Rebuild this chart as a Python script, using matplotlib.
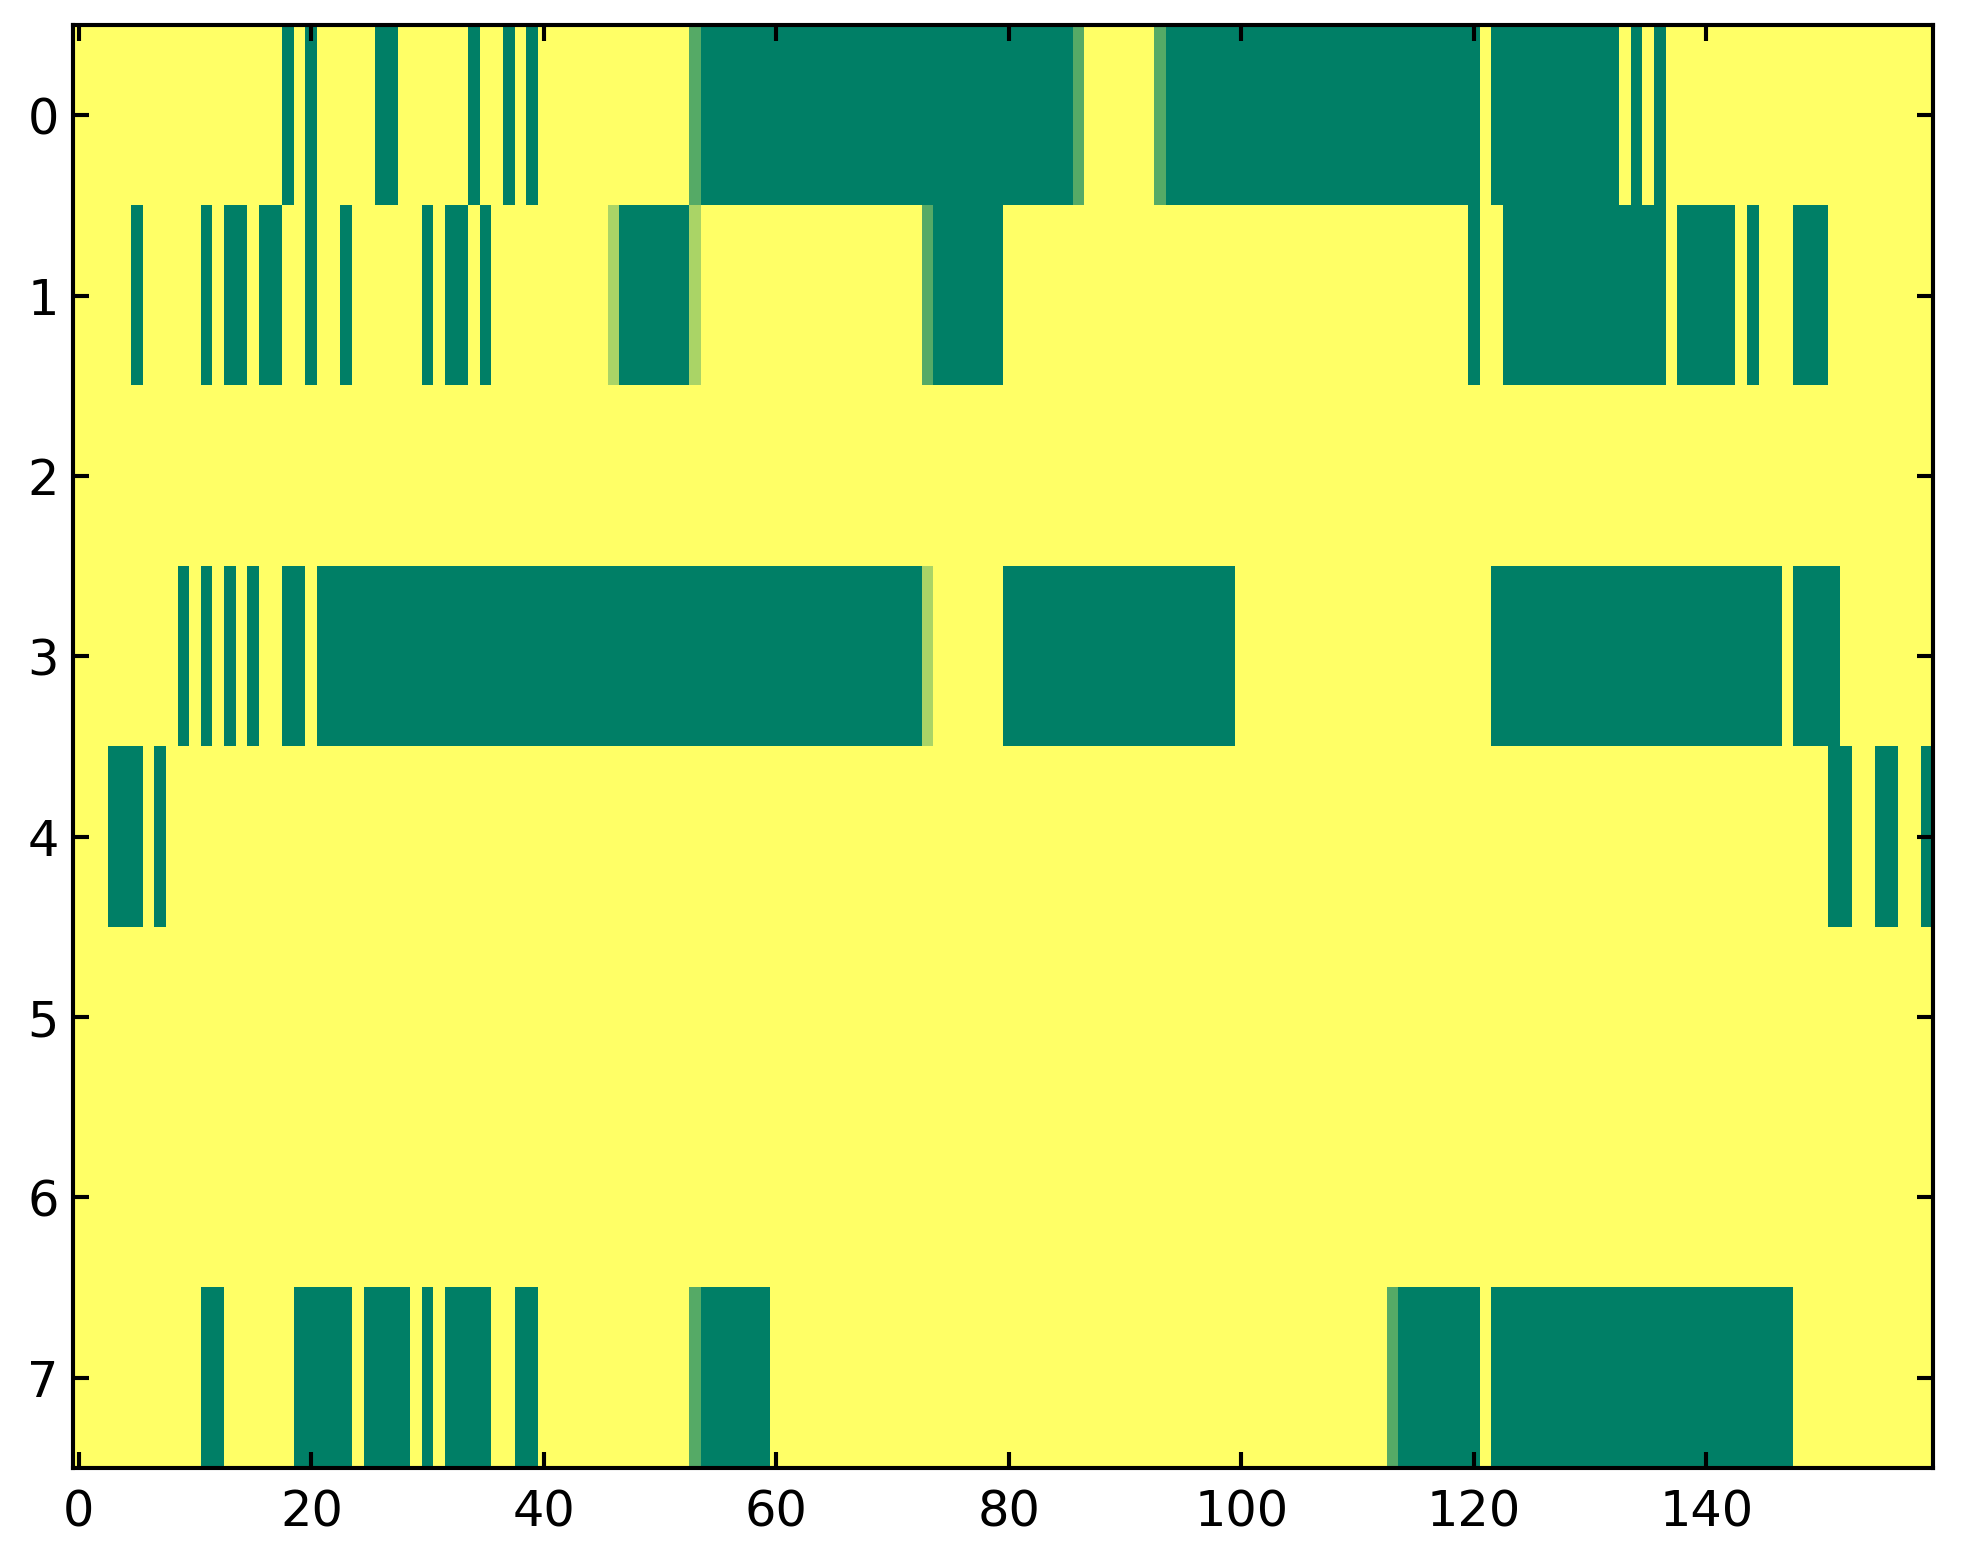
import numpy as np
import matplotlib
matplotlib.use("Agg")
import matplotlib.pyplot as plt

# grid size: 8 rows, 160 columns; value 1 = yellow, 0 = green
n_rows = 8
n_cols = 160

# green runs per row, (first col, last col) inclusive
row0_runs = [(18, 18), (20, 20), (26, 27), (34, 34), (37, 37), (39, 39),
             (54, 85), (94, 120), (122, 132), (134, 134), (136, 136)]
row1_runs = [(5, 5), (11, 11), (13, 14), (16, 17), (20, 20), (23, 23),
             (30, 30), (32, 33), (35, 35), (47, 52), (74, 79), (120, 120),
             (123, 136), (138, 142), (144, 144), (148, 150)]
row2_runs = []
row3_runs = [(9, 9), (11, 11), (13, 13), (15, 15), (18, 19), (21, 72),
             (80, 99), (122, 146), (148, 151)]
row4_runs = [(3, 5), (7, 7), (151, 152), (155, 156), (159, 159)]
row5_runs = []
row6_runs = []
row7_runs = [(11, 12), (19, 23), (25, 28), (30, 30), (32, 35), (38, 39),
             (54, 59), (114, 120), (122, 147)]

# cells with in-between values: (row, col, value)
partial_cells = [(0, 53, 1/3), (0, 86, 1/3), (0, 93, 1/3),
                 (1, 46, 2/3), (1, 53, 2/3), (1, 73, 1/3),
                 (3, 73, 2/3),
                 (7, 53, 1/3), (7, 113, 1/3)]

all_runs = [row0_runs, row1_runs, row2_runs, row3_runs,
            row4_runs, row5_runs, row6_runs, row7_runs]

grid = np.ones((n_rows, n_cols))
for r, runs in enumerate(all_runs):
    for a, b in runs:
        grid[r, a:b + 1] = 0.0
for r, c, v in partial_cells:
    grid[r, c] = v

dpi = 296
fig = plt.figure(figsize=(1963 / dpi, 1564 / dpi), dpi=dpi, facecolor='white')
ax = fig.add_axes([0.0372, 0.0614, 0.9475, 0.9226])
ax.imshow(grid, cmap='summer', vmin=0, vmax=1, aspect='auto', interpolation='nearest')

ax.set_xticks(np.arange(0, 160, 20))
ax.set_yticks(np.arange(0, 8, 1))
ax.tick_params(direction='in', top=True, right=True, length=4, width=1,
               labelsize=12)
ax.tick_params(axis='x', pad=5)
ax.tick_params(axis='y', pad=3.5)
for s in ax.spines.values():
    s.set_linewidth(1.0)

fig.savefig('out.png', dpi=dpi, facecolor='white')
